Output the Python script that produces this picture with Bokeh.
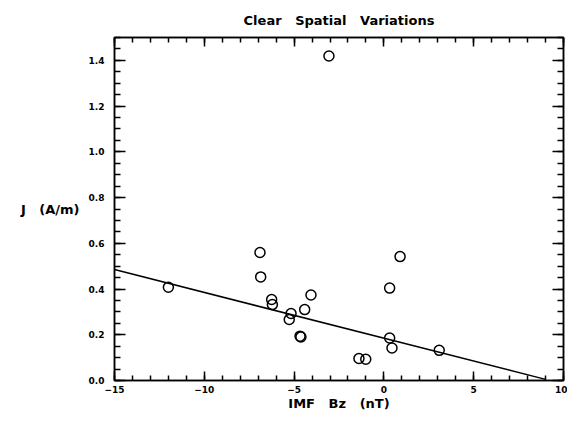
from bokeh.plotting import figure
from bokeh.models import (LinearAxis, FixedTicker, CustomJSTickFormatter, Range1d)
from bokeh.embed import file_html
from bokeh.resources import INLINE

# ---- data ----
bz = [-12.0, -6.90, -6.86, -6.25, -6.21, -5.17, -5.27, -4.67, -4.62, -4.41,
      -4.06, -1.39, -1.01, 0.32, 0.32, 0.45, 0.90, 3.08, -3.06]
j = [0.408, 0.560, 0.453, 0.354, 0.332, 0.293, 0.267, 0.194, 0.190, 0.310,
     0.374, 0.096, 0.093, 0.404, 0.186, 0.142, 0.542, 0.132, 1.419]

fit_x = [-15.0, 9.0]
fit_slope = -0.0200
fit_intercept = 0.185

x_ticks = [-15, -10, -5, 0, 5, 10]
x_tick_labels = ["\u221215", "\u221210", "\u22125", "0", "5", "10"]
y_ticks = [0.0, 0.2, 0.4, 0.6, 0.8, 1.0, 1.2, 1.4]
y_tick_labels = ["0.0", "0.2", "0.4", "0.6", "0.8", "1.0", "1.2", "1.4"]

FONT = "DejaVu Sans"
SP = "\u00a0\u00a0 "

p = figure(width=567, height=413, output_backend="svg", toolbar_location=None,
           x_range=Range1d(-15, 10), y_range=Range1d(0, 1.5),
           min_border_left=114, min_border_right=4, min_border_top=37,
           min_border_bottom=31,
           title="Clear" + SP + "Spatial" + SP + "Variations")
p.title.align = "center"
p.title.text_font = FONT
p.title.text_font_size = "13px"
p.title.text_font_style = "bold"
p.title.text_color = "black"
p.title.offset = 0
p.title.standoff = 20
p.grid.visible = False
p.outline_line_color = "black"
p.outline_line_width = 1.5
p.background_fill_color = "white"
p.border_fill_color = "white"

x_minor = [v for v in range(-15, 11)]
y_minor = [round(0.05 * k, 2) for k in range(0, 31)]

def style_axis(ax, ticks, minor, major_len, minor_len, labels=None):
    ax.ticker = FixedTicker(ticks=ticks, minor_ticks=minor)
    ax.major_tick_in = major_len
    ax.major_tick_out = 0
    ax.minor_tick_in = minor_len
    ax.minor_tick_out = 0
    ax.axis_line_width = 1.5
    ax.major_tick_line_width = 1.5
    ax.minor_tick_line_width = 1.5
    ax.axis_line_color = "black"
    ax.major_tick_line_color = "black"
    ax.minor_tick_line_color = "black"
    ax.major_label_text_font = FONT
    ax.major_label_text_font_size = "9px"
    ax.major_label_text_font_style = "bold"
    ax.major_label_text_color = "black"
    ax.axis_label_text_font = FONT
    ax.axis_label_text_font_size = "13px"
    ax.axis_label_text_font_style = "bold"
    ax.axis_label_text_color = "black"
    if labels is not None:
        ax.major_label_overrides = dict(zip(ticks, labels))
    else:
        ax.formatter = CustomJSTickFormatter(code="return ''")
        ax.major_label_text_font_size = "0px"
        ax.major_label_standoff = 0

xa = p.xaxis[0]
style_axis(xa, x_ticks, x_minor, 9, 5, x_tick_labels)
xa.axis_label = "IMF" + SP + "Bz" + SP + "(nT)"
xa.major_label_standoff = 5
xa.axis_label_standoff = 0

ya = p.yaxis[0]
style_axis(ya, y_ticks, y_minor, 11, 6, y_tick_labels)
ya.axis_label = "J" + SP + "(A/m)"
ya.axis_label_orientation = "horizontal"
ya.major_label_standoff = 10
ya.axis_label_standoff = 6

top = LinearAxis()
style_axis(top, x_ticks, x_minor, 9, 5)
p.add_layout(top, "above")

right = LinearAxis()
style_axis(right, y_ticks, y_minor, 11, 6)
p.add_layout(right, "right")

fit_y = [fit_intercept + fit_slope * xv for xv in fit_x]
p.line(fit_x, fit_y, line_color="black", line_width=1.5)
p.scatter(bz, j, marker="circle", size=10, fill_color=None,
          line_color="black", line_width=1.5)

open("out.html", "w").write(file_html(p, INLINE))
